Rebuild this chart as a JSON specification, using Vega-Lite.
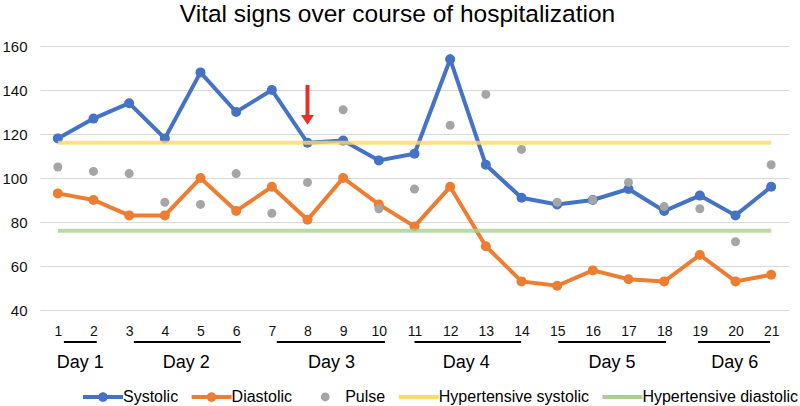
{
  "$schema": "https://vega.github.io/schema/vega-lite/v6.json",
  "width": 749,
  "height": 264,
  "autosize": {"type": "none"},
  "padding": {"left": 40, "top": 46, "right": 11, "bottom": 96},
  "background": "white",
  "config": {
    "font": "Liberation Sans",
    "view": {"stroke": null},
    "axis": {"labelColor": "#111111", "labelOverlap": false},
    "axisX": {"labelFontSize": 14},
    "axisY": {"labelFontSize": 15}
  },
  "title": {
    "text": "Vital signs over course of hospitalization",
    "fontSize": 24.5,
    "fontWeight": "normal",
    "color": "#000000",
    "anchor": "middle",
    "dx": -17,
    "offset": 12
  },
  "resolve": {"legend": {"color": "independent", "shape": "independent"}},
  "datasets": {
    "vitals": [
      {"t": 1, "series": "Systolic", "value": 118},
      {"t": 2, "series": "Systolic", "value": 127},
      {"t": 3, "series": "Systolic", "value": 134},
      {"t": 4, "series": "Systolic", "value": 118},
      {"t": 5, "series": "Systolic", "value": 148},
      {"t": 6, "series": "Systolic", "value": 130},
      {"t": 7, "series": "Systolic", "value": 140},
      {"t": 8, "series": "Systolic", "value": 116},
      {"t": 9, "series": "Systolic", "value": 117},
      {"t": 10, "series": "Systolic", "value": 108},
      {"t": 11, "series": "Systolic", "value": 111},
      {"t": 12, "series": "Systolic", "value": 154},
      {"t": 13, "series": "Systolic", "value": 106},
      {"t": 14, "series": "Systolic", "value": 91},
      {"t": 15, "series": "Systolic", "value": 88},
      {"t": 16, "series": "Systolic", "value": 90},
      {"t": 17, "series": "Systolic", "value": 95},
      {"t": 18, "series": "Systolic", "value": 85},
      {"t": 19, "series": "Systolic", "value": 92},
      {"t": 20, "series": "Systolic", "value": 83},
      {"t": 21, "series": "Systolic", "value": 96},
      {"t": 1, "series": "Diastolic", "value": 93},
      {"t": 2, "series": "Diastolic", "value": 90},
      {"t": 3, "series": "Diastolic", "value": 83},
      {"t": 4, "series": "Diastolic", "value": 83},
      {"t": 5, "series": "Diastolic", "value": 100},
      {"t": 6, "series": "Diastolic", "value": 85},
      {"t": 7, "series": "Diastolic", "value": 96},
      {"t": 8, "series": "Diastolic", "value": 81},
      {"t": 9, "series": "Diastolic", "value": 100},
      {"t": 10, "series": "Diastolic", "value": 88},
      {"t": 11, "series": "Diastolic", "value": 78},
      {"t": 12, "series": "Diastolic", "value": 96},
      {"t": 13, "series": "Diastolic", "value": 69},
      {"t": 14, "series": "Diastolic", "value": 53},
      {"t": 15, "series": "Diastolic", "value": 51},
      {"t": 16, "series": "Diastolic", "value": 58},
      {"t": 17, "series": "Diastolic", "value": 54},
      {"t": 18, "series": "Diastolic", "value": 53},
      {"t": 19, "series": "Diastolic", "value": 65},
      {"t": 20, "series": "Diastolic", "value": 53},
      {"t": 21, "series": "Diastolic", "value": 56},
      {"t": 1, "series": "Pulse", "value": 105},
      {"t": 2, "series": "Pulse", "value": 103},
      {"t": 3, "series": "Pulse", "value": 102},
      {"t": 4, "series": "Pulse", "value": 89},
      {"t": 5, "series": "Pulse", "value": 88},
      {"t": 6, "series": "Pulse", "value": 102},
      {"t": 7, "series": "Pulse", "value": 84},
      {"t": 8, "series": "Pulse", "value": 98},
      {"t": 9, "series": "Pulse", "value": 131},
      {"t": 10, "series": "Pulse", "value": 86},
      {"t": 11, "series": "Pulse", "value": 95},
      {"t": 12, "series": "Pulse", "value": 124},
      {"t": 13, "series": "Pulse", "value": 138},
      {"t": 14, "series": "Pulse", "value": 113},
      {"t": 15, "series": "Pulse", "value": 89},
      {"t": 16, "series": "Pulse", "value": 90},
      {"t": 17, "series": "Pulse", "value": 98},
      {"t": 18, "series": "Pulse", "value": 87},
      {"t": 19, "series": "Pulse", "value": 86},
      {"t": 20, "series": "Pulse", "value": 71},
      {"t": 21, "series": "Pulse", "value": 106},
      {"t": 1, "series": "Hypertensive systolic", "value": 116},
      {"t": 21, "series": "Hypertensive systolic", "value": 116},
      {"t": 1, "series": "Hypertensive diastolic", "value": 76},
      {"t": 21, "series": "Hypertensive diastolic", "value": 76}
    ],
    "days": [
      {"day": "Day 1", "start": 1.17, "end": 2.09, "mid": 1.63},
      {"day": "Day 2", "start": 3.13, "end": 6.13, "mid": 4.6},
      {"day": "Day 3", "start": 7.14, "end": 10.17, "mid": 8.67},
      {"day": "Day 4", "start": 11.0, "end": 13.99, "mid": 12.45},
      {"day": "Day 5", "start": 15.03, "end": 18.05, "mid": 16.54},
      {"day": "Day 6", "start": 18.95, "end": 20.97, "mid": 19.98}
    ]
  },
  "layer": [
    {
      "encoding": {
        "x": {
          "field": "t", "type": "quantitative",
          "scale": {"domain": [0.5, 21.5], "nice": false, "zero": false},
          "axis": {
            "title": null,
            "values": [1,2,3,4,5,6,7,8,9,10,11,12,13,14,15,16,17,18,19,20,21],
            "format": "d", "grid": false, "domain": false, "ticks": false,
            "labelFontSize": 14, "labelPadding": 14, "labelOverlap": false, "labelColor": "#111111"
          }
        },
        "y": {
          "field": "value", "type": "quantitative",
          "scale": {"domain": [40, 160], "nice": false, "zero": false},
          "axis": {
            "title": null,
            "values": [40, 60, 80, 100, 120, 140, 160],
            "grid": true, "gridColor": "#d9d9d9", "gridWidth": 1,
            "domain": false, "ticks": false,
            "labelFontSize": 15, "labelPadding": 13, "labelColor": "#111111"
          }
        },
        "color": {
          "field": "series", "type": "nominal",
          "scale": {
            "domain": ["Systolic", "Diastolic", "Pulse", "Hypertensive systolic", "Hypertensive diastolic"],
            "range": ["#4472C4", "#ED7D31", "#A5A5A5", "#FFD966", "#A9D18E"]
          },
          "legend": null
        }
      },
      "layer": [
        {
          "data": {"name": "vitals"},
          "transform": [{"filter": "datum.series === 'Systolic' || datum.series === 'Diastolic'"}],
          "mark": {"type": "line", "strokeWidth": 4}
        },
        {
          "data": {"name": "vitals"},
          "transform": [{"filter": "datum.series === 'Systolic' || datum.series === 'Diastolic'"}],
          "mark": {"type": "point", "filled": true, "size": 100, "opacity": 1, "shape": "circle"}
        },
        {
          "data": {"name": "vitals"},
          "transform": [{"filter": "datum.series === 'Pulse'"}],
          "mark": {"type": "point", "filled": true, "size": 81, "opacity": 1, "shape": "circle"}
        },
        {
          "data": {"name": "vitals"},
          "transform": [{"filter": "datum.series === 'Hypertensive systolic' || datum.series === 'Hypertensive diastolic'"}],
          "mark": {"type": "line", "strokeWidth": 4, "opacity": 0.8}
        },
        {
          "data": {"values": [{"t": 8, "value": 142.3, "end": 128.6}]},
          "mark": {"type": "rule", "strokeWidth": 4, "color": "#E8302A"},
          "encoding": {"y2": {"field": "end"}, "color": null}
        },
        {
          "data": {"values": [{"t": 8, "value": 126.4}]},
          "mark": {"type": "point", "filled": true, "opacity": 1, "size": 169, "color": "#E8302A", "shape": "M-1,-0.75L1,-0.75L0,0.75Z"},
          "encoding": {"color": null}
        }
      ]
    },
    {
      "data": {"name": "vitals"},
      "transform": [{"filter": "datum.t < 0"}],
      "mark": {"type": "point", "filled": true, "opacity": 1},
      "encoding": {
        "x": {"field": "t", "type": "quantitative", "axis": {"title": null, "values": [1,2,3,4,5,6,7,8,9,10,11,12,13,14,15,16,17,18,19,20,21], "format": "d", "grid": false, "domain": false, "ticks": false, "labelFontSize": 14, "labelPadding": 14, "labelOverlap": false, "labelColor": "#111111"}},
        "y": {"field": "value", "type": "quantitative", "axis": {"title": null, "values": [40, 60, 80, 100, 120, 140, 160], "grid": true, "gridColor": "#d9d9d9", "gridWidth": 1, "domain": false, "ticks": false, "labelFontSize": 15, "labelPadding": 13, "labelColor": "#111111"}},
        "color": {
          "field": "series", "type": "nominal",
          "legend": {
            "orient": "none", "legendX": 43, "legendY": 331,
            "direction": "horizontal", "title": null,
            "labelFontSize": 16, "labelOffset": 0, "labelColor": "#000000",
            "columnPadding": 12.6, "symbolSize": 1600, "symbolStrokeWidth": 0,
            "padding": 0
          }
        },
        "shape": {
          "field": "series", "type": "nominal",
          "scale": {
            "domain": ["Systolic", "Diastolic", "Pulse", "Hypertensive systolic", "Hypertensive diastolic"],
            "range": [
              "M-1,-0.1H1V0.1H-1Z M-0.24,0 A0.24,0.24 0 1,1 0.24,0 A0.24,0.24 0 1,1 -0.24,0 Z",
              "M-1,-0.1H1V0.1H-1Z M-0.24,0 A0.24,0.24 0 1,1 0.24,0 A0.24,0.24 0 1,1 -0.24,0 Z",
              "M-0.22,0 A0.22,0.22 0 1,1 0.22,0 A0.22,0.22 0 1,1 -0.22,0 Z",
              "M-1,-0.1H1V0.1H-1Z",
              "M-1,-0.1H1V0.1H-1Z"
            ]
          },
          "legend": {
            "orient": "none", "legendX": 43, "legendY": 331,
            "direction": "horizontal", "title": null,
            "labelFontSize": 16, "labelOffset": 0, "labelColor": "#000000",
            "columnPadding": 12.6, "symbolSize": 1600, "symbolStrokeWidth": 0,
            "padding": 0
          }
        }
      }
    },
    {
      "data": {"name": "days"},
      "mark": {"type": "rule", "strokeWidth": 2, "color": "#000000"},
      "encoding": {
        "x": {"field": "start", "type": "quantitative", "axis": {"title": null, "values": [1,2,3,4,5,6,7,8,9,10,11,12,13,14,15,16,17,18,19,20,21], "format": "d", "grid": false, "domain": false, "ticks": false, "labelFontSize": 14, "labelPadding": 14, "labelOverlap": false, "labelColor": "#111111"}},
        "x2": {"field": "end"},
        "y": {"datum": 25.5, "type": "quantitative", "axis": {"title": null, "values": [40, 60, 80, 100, 120, 140, 160], "grid": true, "gridColor": "#d9d9d9", "gridWidth": 1, "domain": false, "ticks": false, "labelFontSize": 15, "labelPadding": 13, "labelColor": "#111111"}}
      }
    },
    {
      "data": {"name": "days"},
      "mark": {"type": "text", "fontSize": 18, "color": "#000000", "baseline": "middle", "align": "center"},
      "encoding": {
        "x": {"field": "mid", "type": "quantitative", "axis": {"title": null, "values": [1,2,3,4,5,6,7,8,9,10,11,12,13,14,15,16,17,18,19,20,21], "format": "d", "grid": false, "domain": false, "ticks": false, "labelFontSize": 14, "labelPadding": 14, "labelOverlap": false, "labelColor": "#111111"}},
        "y": {"datum": 15.9, "type": "quantitative", "axis": {"title": null, "values": [40, 60, 80, 100, 120, 140, 160], "grid": true, "gridColor": "#d9d9d9", "gridWidth": 1, "domain": false, "ticks": false, "labelFontSize": 15, "labelPadding": 13, "labelColor": "#111111"}},
        "text": {"field": "day"}
      }
    }
  ]
}
